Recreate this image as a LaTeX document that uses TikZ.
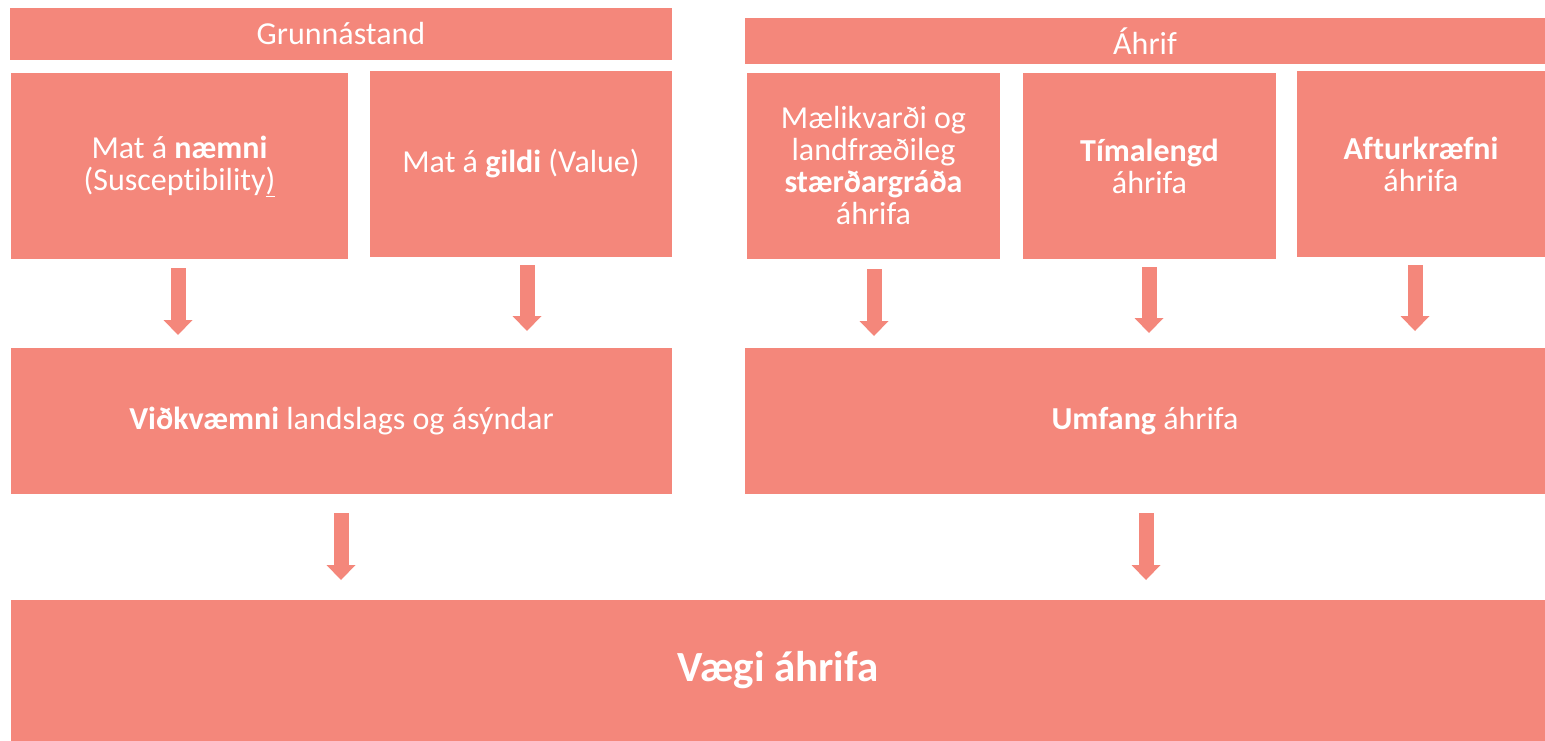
\documentclass[tikz,border=0pt]{standalone}
\usepackage{fontspec}
\setmainfont{Carlito}[Ligatures=NoCommon]
\usetikzlibrary{arrows.meta}
\definecolor{salmon}{RGB}{244,135,123}
\begin{document}
\begin{tikzpicture}[x=1pt,y=-1pt,
  box/.style={fill=salmon, draw=none, inner sep=0pt, text=white, align=center, font=\fontsize{32}{32}\selectfont},
  blockarr/.style={draw=salmon, line width=15pt, -{Triangle[width=29pt,length=15pt,line width=0pt]}},
]
\useasboundingbox (0,0) rectangle (1545,741);
\node[box, minimum width=662pt, minimum height=52pt] (g) at (341,34) {Grunnástand};
\node[box, minimum width=800pt, minimum height=46pt] (ah) at (1145,41) {Áhrif};
\node[box, minimum width=337pt, minimum height=186pt] (b1) at (179.5,166) {Mat á \textbf{næmni}\\(Susceptibility\underline{)}};
\node[box, minimum width=302pt, minimum height=186pt] (b2) at (521,164) {Mat á \textbf{gildi} (Value)};
\node[box, minimum width=253pt, minimum height=186pt] (b3) at (873.5,166) {Mælikvarði og\\landfræðileg\\\textbf{stærðargráða}\\áhrifa};
\node[box, minimum width=253pt, minimum height=186pt] (b4) at (1149.5,166) {\textbf{Tímalengd}\\áhrifa};
\node[box, minimum width=248pt, minimum height=186pt] (b5) at (1421,164) {\textbf{Afturkræfni}\\áhrifa};
\node[box, minimum width=661pt, minimum height=146pt] (v) at (341.5,421) {\textbf{Viðkvæmni} landslags og ásýndar};
\node[box, minimum width=800pt, minimum height=146pt] (u) at (1145,421) {\textbf{Umfang} áhrifa};
\node[box, minimum width=1534pt, minimum height=141pt, font=\fontsize{43}{48}\selectfont\bfseries] (w) at (778,670.5) {Vægi áhrifa};
\coordinate (a1s) at (178,268); \coordinate (a1e) at (178,335);
\coordinate (a2s) at (527,265); \coordinate (a2e) at (527,331);
\coordinate (a3s) at (874,269); \coordinate (a3e) at (874,336);
\coordinate (a4s) at (1149,267); \coordinate (a4e) at (1149,333);
\coordinate (a5s) at (1415,265); \coordinate (a5e) at (1415,331);
\coordinate (a6s) at (341,513); \coordinate (a6e) at (341,580);
\coordinate (a7s) at (1146,513); \coordinate (a7e) at (1146,580);
\foreach \i in {1,...,7} {\draw[blockarr] (a\i s) -- (a\i e);}
\end{tikzpicture}
\end{document}
